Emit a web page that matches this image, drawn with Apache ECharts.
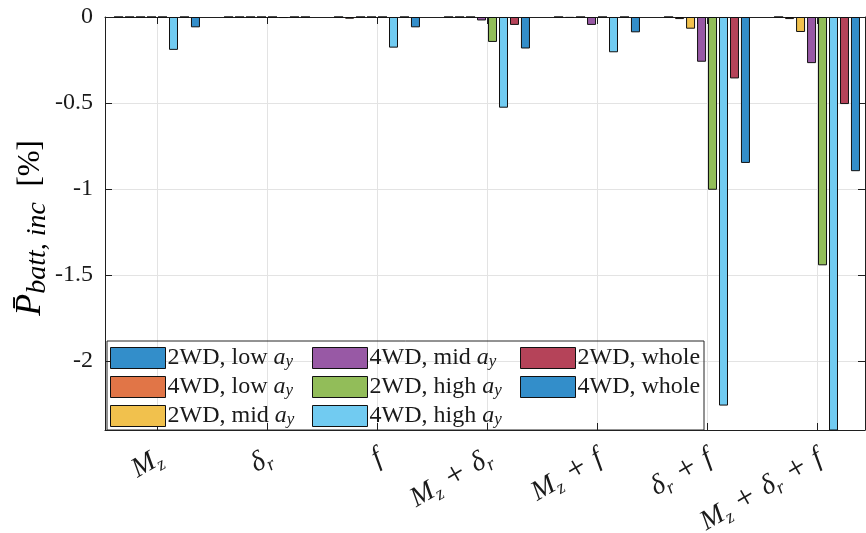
<!DOCTYPE html>
<html>
<head>
<meta charset="utf-8">
<script src="https://cdn.jsdelivr.net/npm/echarts@6/dist/echarts.min.js"></script>
<style>
  html, body { margin: 0; padding: 0; background: #fff; }
  #chart { width: 866px; height: 533px; }
</style>
</head>
<body>
<div id="chart"></div>
<script>
// Controller configurations on the x axis (x position = index + 1)
const categories = ['M_z', 'δ_r', 'f', 'M_z + δ_r', 'M_z + f', 'δ_r + f', 'M_z + δ_r + f'];
const categoryPos = [1, 2, 3, 4, 5, 6, 7];

// Mean battery power increase per configuration [%]
const low2WD   = [0, 0, 0, 0, 0, 0, 0];
const low4WD   = [0, 0, -0.01, 0, -0.005, -0.012, -0.012];
const mid2WD   = [0, 0, 0, 0, 0, -0.068, -0.087];
const mid4WD   = [0, 0, 0, -0.02, -0.046, -0.26, -0.268];
const high2WD  = [0, 0, 0, -0.145, 0, -1.004, -1.443];
const high4WD  = [-0.191, -0.006, -0.178, -0.527, -0.205, -2.258, -2.6];
const whole2WD = [0, 0, 0, -0.046, 0, -0.357, -0.506];
const whole4WD = [-0.06, 0, -0.06, -0.183, -0.089, -0.848, -0.896];

const seriesNames = [
  '2WD, low a_y', '4WD, low a_y', '2WD, mid a_y', '4WD, mid a_y',
  '2WD, high a_y', '4WD, high a_y', '2WD, whole', '4WD, whole'
];
const seriesValues = [low2WD, low4WD, mid2WD, mid4WD, high2WD, high4WD, whole2WD, whole4WD];
const colors = ['#338ECA', '#E17547', '#F1C14D', '#9859A5', '#92BD59', '#71CBF1', '#B54359', '#338ECA'];

const yTicks = [0, -0.5, -1, -1.5, -2];

const SERIF = '"Liberation Serif", "DejaVu Serif", serif';
const INK = '#1a1a1a';
const AXIS = '#1f1f1f';

function mathTerm(term) {
  const p = term.split('_');
  return p.length > 1 ? '{it|' + p[0] + '}{sub|' + p[1] + '}' : '{it|' + term + '}';
}
function categoryLabel(s) {
  return s.split(' + ').map(mathTerm).join('{op|+}');
}
function legendLabel(s) {
  const m = s.match(/^(.*\s)(a_y)$/);
  if (!m) return '{rm|' + s + '}';
  return '{rm|' + m[1] + '}' + mathTerm(m[2]);
}

// Rich styles for the tick labels under the x axis
const xRich = {
  op:  { fontFamily: SERIF, fontSize: 33, color: INK, lineHeight: 30, padding: [0, 10, 0, 10] },
  it:  { fontFamily: SERIF, fontSize: 28, fontStyle: 'italic', color: INK, lineHeight: 30 },
  sub: { fontFamily: SERIF, fontSize: 19, fontStyle: 'italic', color: INK, lineHeight: 19, padding: [16, 0, 0, 0] }
};
// Rich styles for the legend entries
const legendRich = {
  rm:  { fontFamily: SERIF, fontSize: 24, color: INK, lineHeight: 23 },
  it:  { fontFamily: SERIF, fontSize: 24, fontStyle: 'italic', color: INK, lineHeight: 23 },
  sub: { fontFamily: SERIF, fontSize: 17, fontStyle: 'italic', color: INK, lineHeight: 16, padding: [7, 0, 0, 0] }
};

const chart = echarts.init(document.getElementById('chart'), null, { renderer: 'canvas' });

const X_MIN = 0.527, X_MAX = 7.436;
// rotated tick labels sit slightly right of their tick
const LABEL_SHIFT = 0.03;
const labelPos = categoryPos.map(x => x + LABEL_SHIFT);

const series = seriesNames.map((name, i) => ({
  name,
  type: 'bar',
  xAxisIndex: 0,
  yAxisIndex: 0,
  data: categoryPos.map((x, j) => [x, seriesValues[i][j]]),
  barWidth: 9,
  barGap: '22%',
  itemStyle: { color: colors[i], borderColor: '#111', borderWidth: 1 },
  emphasis: { disabled: true },
  clip: true
}));

// Legend: three columns of up to three entries inside one framed box
const legendColumnsLeft = [110, 312, 520];
const legends = legendColumnsLeft.map((left, c) => ({
  orient: 'vertical',
  left, top: 346,
  padding: 0,
  itemWidth: 55, itemHeight: 21, itemGap: 5,
  icon: 'rect',
  itemStyle: { borderColor: '#111', borderWidth: 1 },
  selectedMode: false,
  data: seriesNames.slice(c * 3, c * 3 + 3),
  formatter: legendLabel,
  textStyle: { rich: legendRich, padding: [0, 0, 0, -3] },
  z: 5
}));

const option = {
  animation: false,
  backgroundColor: '#fff',
  grid: { left: 105, right: 1, top: 17, bottom: 103, containLabel: false, outerBoundsMode: 'none' },
  xAxis: [
    {
      type: 'value', position: 'bottom', min: X_MIN, max: X_MAX,
      axisLine: { show: true, onZero: false, lineStyle: { color: AXIS, width: 1 } },
      axisTick: { show: true, inside: true, length: 7, customValues: categoryPos, lineStyle: { color: AXIS } },
      axisLabel: {
        show: true, customValues: labelPos, rotate: 30, margin: 26,
        formatter: v => categoryLabel(categories[Math.round(v) - 1]),
        rich: xRich
      },
      splitLine: { show: true, lineStyle: { color: '#e3e3e3', width: 1 } }
    },
    {
      type: 'value', position: 'top', min: X_MIN, max: X_MAX,
      axisLine: { show: true, onZero: false, lineStyle: { color: AXIS, width: 1 } },
      axisTick: { show: true, inside: true, length: 7, customValues: categoryPos, lineStyle: { color: AXIS } },
      axisLabel: { show: false },
      splitLine: { show: false }
    }
  ],
  yAxis: [
    {
      type: 'value', position: 'left', min: -2.4, max: 0,
      axisLine: { show: true, onZero: false, lineStyle: { color: AXIS, width: 1 } },
      axisTick: { show: true, inside: true, length: 7, customValues: yTicks, lineStyle: { color: AXIS } },
      axisLabel: {
        customValues: yTicks, margin: 12,
        fontFamily: SERIF, fontSize: 24, color: INK,
        formatter: v => String(v)
      },
      splitLine: { show: true, lineStyle: { color: '#e3e3e3', width: 1 } }
    },
    {
      type: 'value', position: 'right', min: -2.4, max: 0,
      axisLine: { show: true, onZero: false, lineStyle: { color: AXIS, width: 1 } },
      axisTick: { show: true, inside: true, length: 7, customValues: yTicks, lineStyle: { color: AXIS } },
      axisLabel: { show: false },
      splitLine: { show: false }
    }
  ],
  legend: legends,
  graphic: [
    {
      // frame around the legend columns
      type: 'rect', z: 4,
      shape: { x: 107, y: 341, width: 597, height: 89 },
      style: { fill: 'none', stroke: '#262626', lineWidth: 1 }
    },
    {
      type: 'text', z: 4,
      x: 31, y: 228,
      rotation: Math.PI / 2,
      style: {
        text: '{P|P\u0304}{sub|batt, inc}{rm|  [%]}',
        align: 'center', verticalAlign: 'middle',
        rich: {
          P:   { fontFamily: SERIF, fontSize: 36, fontStyle: 'italic', color: INK, lineHeight: 36 },
          sub: { fontFamily: SERIF, fontSize: 28, fontStyle: 'italic', color: INK, lineHeight: 26, padding: [14, 0, 0, 0] },
          rm:  { fontFamily: SERIF, fontSize: 31, color: INK, lineHeight: 36 }
        }
      }
    }
  ],
  series
};

chart.setOption(option);
</script>
</body>
</html>
